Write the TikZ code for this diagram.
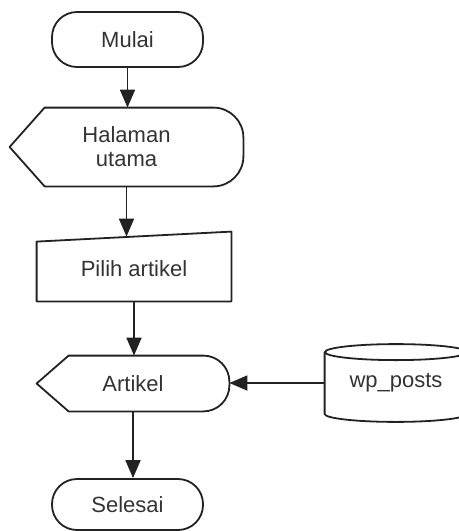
\documentclass[tikz,border=0pt]{standalone}
\usepackage{fontspec}
\setmainfont{Liberation Sans}
\usetikzlibrary{arrows.meta,positioning,calc}
\definecolor{flowline}{RGB}{34,34,34}
\definecolor{flowtext}{RGB}{51,51,51}

\begin{document}
\begin{tikzpicture}[x=0.5pt, y=-0.5pt,
    font=\fontsize{11}{12}\selectfont, text=flowtext,
    outline/.style={draw=flowline, line width=0.9pt, line join=round, line cap=round},
    terminal/.style={outline, rounded corners=12.5pt, minimum width=75.5pt, minimum height=27.5pt},
    flow/.style={draw=flowline, line width=0.9pt, -{Triangle[width=7.5pt,length=9pt]}}]
  \useasboundingbox (0,0) rectangle (459,531);

  % Draw start and end
  \node[terminal] (mulai) at (127.5,39.5) {Mulai};
  \node[terminal, minimum height=25.5pt] (selesai) at (127.5,504.5) {Selesai};

  % Draw display boxes
  \node[minimum width=116.5pt, minimum height=39pt, align=center] (halaman) at (126.5,147) {Halaman\\utama};
  \node[minimum width=96pt, minimum height=27.5pt] (artikel) at (133,383.5) {Artikel};
  \draw[outline, rounded corners=15pt] ([xshift=17.5pt]halaman.north west) -- (halaman.north east) -- (halaman.south east) -- ([xshift=17.5pt]halaman.south west);
  \draw[outline] ([xshift=17.5pt]halaman.south west) -- (halaman.west) -- ([xshift=17.5pt]halaman.north west);
  \draw[outline, rounded corners=13pt] ([xshift=16pt]artikel.north west) -- (artikel.north east) -- (artikel.south east) -- ([xshift=16pt]artikel.south west);
  \draw[outline] ([xshift=16pt]artikel.south west) -- (artikel.west) -- ([xshift=16pt]artikel.north west);

  % Draw manual input
  \node[minimum width=97pt, minimum height=32pt] (pilih) at (134,269) {Pilih artikel};
  \draw[outline] ([yshift=-2.5pt]pilih.north west) -- ([yshift=2.5pt]pilih.north east) -- (pilih.south east) -- (pilih.south west) -- cycle;

  % Draw database
  \node[minimum width=71pt, minimum height=30.5pt] (posts) at (396,383) {wp\_posts};
  \draw[outline] (posts.north west) -- (posts.south west) arc[start angle=180, end angle=360, x radius=35.5pt, y radius=4pt] -- (posts.north east);
  \draw[outline] (posts.north) ellipse [x radius=35.5pt, y radius=4pt];

  % Draw connections
  \draw[flow] (mulai.south) -- (mulai.south |- halaman.north);
  \draw[flow] (halaman.south) -- (halaman.south |- pilih.north);
  \draw[flow] (pilih.south) -- (pilih.south |- artikel.north);
  \draw[flow] (artikel.south) -- (artikel.south |- selesai.north);
  \draw[flow] (posts.west) -- (posts.west -| artikel.east);
\end{tikzpicture}
\end{document}
